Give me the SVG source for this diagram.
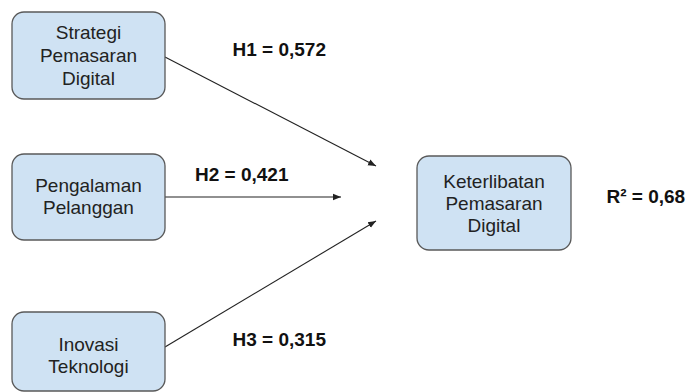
<svg xmlns="http://www.w3.org/2000/svg" width="689" height="392" viewBox="0 0 689 392">
<style>
.box{fill:#cfe2f3;stroke:#595959;stroke-width:1.3}
.t{font-family:"Liberation Sans",Arial,sans-serif;font-size:19px;fill:#222;text-anchor:middle}
.lbl{font-family:"Liberation Sans",Arial,sans-serif;font-size:19px;font-weight:bold;fill:#111}
.c{stroke:#222;stroke-width:1.1;fill:none;marker-end:url(#ah)}
</style>
<defs>
<marker id="ah" viewBox="0 0 10 10" refX="10" refY="5" markerWidth="8" markerHeight="8" markerUnits="userSpaceOnUse" orient="auto">
<path d="M0,1 L10,5 L0,9 z" fill="#222"/>
</marker>
</defs>
<rect width="689" height="392" fill="#fff"/>
<g id="connectors">
<line class="c" x1="165" y1="57" x2="376" y2="166"/>
<line class="c" x1="165" y1="197" x2="341" y2="197"/>
<line class="c" x1="165" y1="347" x2="376" y2="221"/>
</g>
<g id="n1">
<rect class="box" x="12" y="12" width="153" height="87" rx="12"/>
<text class="t" x="88.5" y="39">Strategi</text>
<text class="t" x="88.5" y="62">Pemasaran</text>
<text class="t" x="88.5" y="84.5">Digital</text>
</g>
<g id="n2">
<rect class="box" x="12" y="154" width="153" height="86" rx="12"/>
<text class="t" x="88.5" y="192">Pengalaman</text>
<text class="t" x="88.5" y="214">Pelanggan</text>
</g>
<g id="n3">
<rect class="box" x="12" y="312" width="153" height="79" rx="12"/>
<text class="t" x="88.5" y="351">Inovasi</text>
<text class="t" x="88.5" y="373">Teknologi</text>
</g>
<g id="n4">
<rect class="box" x="417" y="156" width="154" height="94" rx="12"/>
<text class="t" x="494" y="187.5">Keterlibatan</text>
<text class="t" x="494" y="210">Pemasaran</text>
<text class="t" x="494" y="232">Digital</text>
</g>
<g id="labels">
<text class="lbl" x="232.5" y="56">H1 = 0,572</text>
<text class="lbl" x="195" y="181">H2 = 0,421</text>
<text class="lbl" x="232.5" y="346">H3 = 0,315</text>
<text class="lbl" x="606.5" y="203">R² = 0,68</text>
</g>
</svg>
